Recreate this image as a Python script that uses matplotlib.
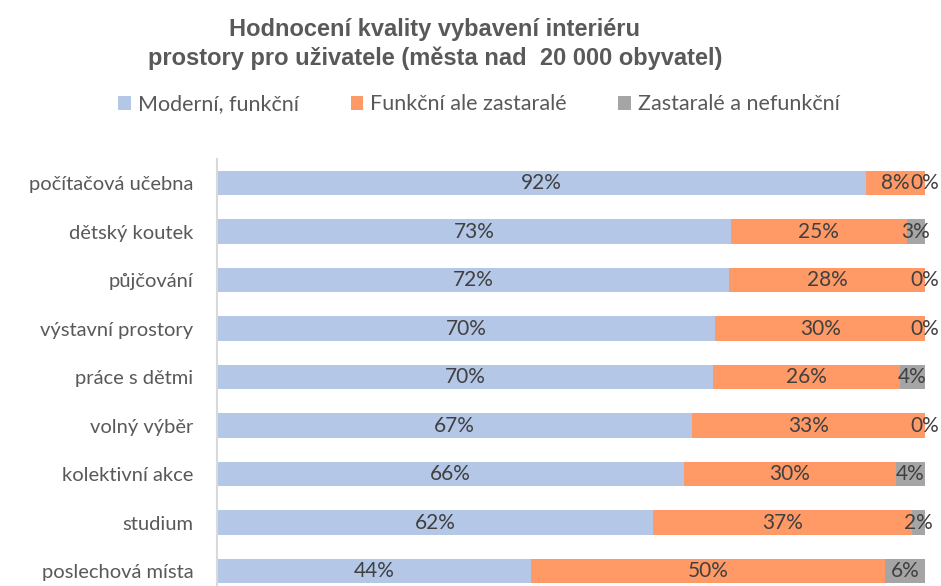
import numpy as np
import matplotlib.pyplot as plt

# data (shares in %)
categories = ["počítačová učebna", "dětský koutek", "půjčování", "výstavní prostory",
              "práce s dětmi", "volný výběr", "kolektivní akce", "studium", "poslechová místa"]
moderni = [91.6, 72.6, 72.3, 70.4, 70.1, 67.1, 65.9, 61.6, 44.4]
funkcni = [8.4, 24.8, 27.7, 29.6, 26.3, 32.9, 30.0, 36.6, 50.0]
zastarale = [0.0, 2.6, 0.0, 0.0, 3.6, 0.0, 4.1, 1.8, 5.6]
series_names = ["Moderní, funkční", "Funkční ale zastaralé", "Zastaralé a nefunkční"]
colors = ["#B4C7E7", "#FF9966", "#A5A5A5"]

plt.rcParams['font.family'] = ['Lato', 'DejaVu Sans']

fig = plt.figure(figsize=(9.41, 5.86), dpi=100)
ax = fig.add_axes([217/941, -0.0162, 708/941, 0.745])

y = np.arange(len(categories))
left = np.zeros(len(categories))
for vals, name, col in zip([moderni, funkcni, zastarale], series_names, colors):
    vals = np.array(vals)
    ax.barh(y, vals, left=left, height=0.505, color=col, label=name)
    for yi, l, v in zip(y, left, vals):
        ax.text(l + v/2, yi, f"{v:.0f}%", ha='center', va='center',
                fontsize=15, color='#404040')
    left = left + vals

ax.set_xlim(0, 100)
ax.set_ylim(len(categories) - 0.5, -0.5)
ax.set_yticks(y)
ax.set_yticklabels(categories, fontsize=14.5, color='#595959')
ax.tick_params(axis='y', length=0, pad=17)
ax.set_xticks([])
for s in ['top', 'right', 'bottom']:
    ax.spines[s].set_visible(False)
ax.spines['left'].set_color('#D9D9D9')
ax.spines['left'].set_linewidth(1.5)

fig.text(0.462, 0.925, "Hodnocení kvality vybavení interiéru\nprostory pro uživatele (města nad  20 000 obyvatel)",
         ha='center', va='center', fontsize=17, fontweight='bold', color='#595959',
         family=['Liberation Sans Narrow', 'Liberation Sans', 'DejaVu Sans'], linespacing=1.3)

fig.legend(loc='center', bbox_to_anchor=(0.509, 0.822), ncol=3, frameon=False,
           fontsize=15.5, labelcolor='#595959', handlelength=0.6, handleheight=0.6,
           handletextpad=0.3, columnspacing=2.4)

fig.savefig("out.png", dpi=100)
